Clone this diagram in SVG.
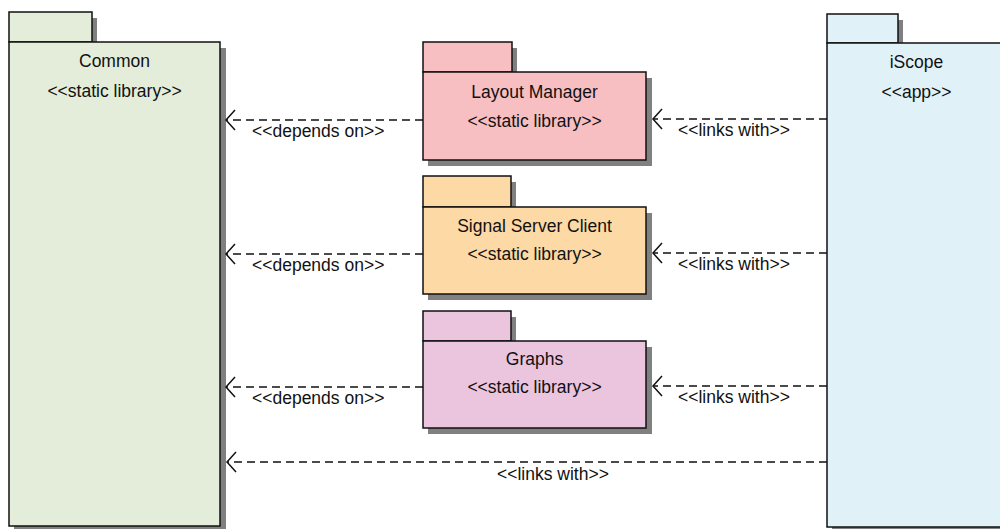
<svg xmlns="http://www.w3.org/2000/svg" width="1000" height="529" viewBox="0 0 1000 529">
  <style>
    .shadow { fill: #808080; }
    .box { stroke: #111; stroke-width: 1.5; }
    .name, .stereo { font-family: "Liberation Sans", Arial, sans-serif; font-size: 17.5px; fill: #111; text-anchor: middle; }
    .edge { fill: none; stroke: #111; stroke-width: 1.5; stroke-dasharray: 8 5; }
    .head { fill: none; stroke: #111; stroke-width: 1.5; }
    .label { font-family: "Liberation Sans", Arial, sans-serif; font-size: 17.5px; fill: #111; }
    .common { fill: #e3edd9; }
    .layout { fill: #f7bfc1; }
    .signal { fill: #fdd9a5; }
    .graphs { fill: #ebc4de; }
    .iscope { fill: #e0f2f8; }
  </style>

  <!-- Common package -->
  <g id="common">
    <rect class="shadow" x="14" y="18" width="83" height="30"/>
    <rect class="shadow" x="14" y="48" width="212" height="484"/>
    <rect class="box common" x="9" y="12" width="83" height="30"/>
    <rect class="box common" x="9" y="42" width="211" height="484"/>
    <text class="name" x="114.5" y="67">Common</text>
    <text class="stereo" x="114.5" y="97">&lt;&lt;static library&gt;&gt;</text>
  </g>

  <!-- Layout Manager package -->
  <g id="layout-manager">
    <rect class="shadow" x="428" y="48" width="89" height="30"/>
    <rect class="shadow" x="428" y="78" width="224" height="88"/>
    <rect class="box layout" x="423" y="42" width="89" height="30"/>
    <rect class="box layout" x="423" y="72" width="223" height="88"/>
    <text class="name" x="534.5" y="98">Layout Manager</text>
    <text class="stereo" x="534.5" y="127">&lt;&lt;static library&gt;&gt;</text>
  </g>

  <!-- Signal Server Client package -->
  <g id="signal-server-client">
    <rect class="shadow" x="428" y="182" width="88" height="31"/>
    <rect class="shadow" x="428" y="213" width="224" height="87"/>
    <rect class="box signal" x="423" y="176" width="88" height="31"/>
    <rect class="box signal" x="423" y="207" width="223" height="87"/>
    <text class="name" x="534.5" y="232">Signal Server Client</text>
    <text class="stereo" x="534.5" y="260">&lt;&lt;static library&gt;&gt;</text>
  </g>

  <!-- Graphs package -->
  <g id="graphs">
    <rect class="shadow" x="428" y="317" width="88" height="30"/>
    <rect class="shadow" x="428" y="347" width="224" height="87"/>
    <rect class="box graphs" x="423" y="311" width="88" height="30"/>
    <rect class="box graphs" x="423" y="341" width="223" height="87"/>
    <text class="name" x="534.5" y="365">Graphs</text>
    <text class="stereo" x="534.5" y="393">&lt;&lt;static library&gt;&gt;</text>
  </g>

  <!-- iScope package -->
  <g id="iscope">
    <rect class="shadow" x="832" y="20" width="71" height="29"/>
    <rect class="shadow" x="832" y="49" width="180" height="484"/>
    <rect class="box iscope" x="827" y="14" width="71" height="29"/>
    <rect class="box iscope" x="827" y="43" width="180" height="484"/>
    <text class="name" x="916.5" y="68">iScope</text>
    <text class="stereo" x="916.5" y="98">&lt;&lt;app&gt;&gt;</text>
  </g>

  <!-- Dependencies -->
  <g id="connectors">
    <path class="edge" d="M423 120 H226"/>
    <path class="head" d="M235 110 L226 120 L235 130"/>
    <text class="label" x="252" y="137">&lt;&lt;depends on&gt;&gt;</text>

    <path class="edge" d="M827 119 H653"/>
    <path class="head" d="M662 109 L653 119 L662 129"/>
    <text class="label" x="678" y="136">&lt;&lt;links with&gt;&gt;</text>

    <path class="edge" d="M423 254 H226"/>
    <path class="head" d="M235 244 L226 254 L235 264"/>
    <text class="label" x="252" y="271">&lt;&lt;depends on&gt;&gt;</text>

    <path class="edge" d="M827 253 H653"/>
    <path class="head" d="M662 243 L653 253 L662 263"/>
    <text class="label" x="678" y="270">&lt;&lt;links with&gt;&gt;</text>

    <path class="edge" d="M423 387 H226"/>
    <path class="head" d="M235 377 L226 387 L235 397"/>
    <text class="label" x="252" y="404">&lt;&lt;depends on&gt;&gt;</text>

    <path class="edge" d="M827 386 H653"/>
    <path class="head" d="M662 376 L653 386 L662 396"/>
    <text class="label" x="678" y="403">&lt;&lt;links with&gt;&gt;</text>

    <path class="edge" d="M827 462 H227"/>
    <path class="head" d="M236 452 L227 462 L236 472"/>
    <text class="label" x="497" y="480">&lt;&lt;links with&gt;&gt;</text>
  </g>
</svg>
